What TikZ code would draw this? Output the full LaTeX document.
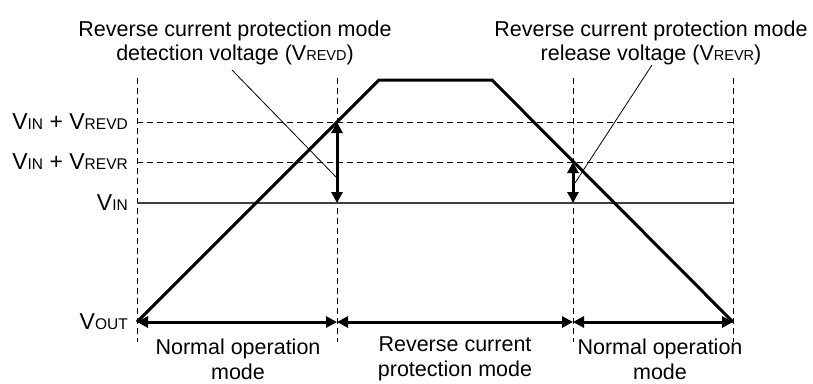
\documentclass[tikz,border=0pt]{standalone}
\usepackage{fontspec}
\setmainfont{Liberation Sans}
\usetikzlibrary{positioning, arrows.meta}
\newcommand{\sm}[1]{{\fontsize{14.5}{14.5}\selectfont #1}}
\newcommand{\lv}[1]{{\fontsize{15.5}{15.5}\selectfont #1}}

\begin{document}
\begin{tikzpicture}[x=1pt, y=-1pt, font=\fontsize{21.5}{25}\selectfont,
  guide/.style={line width=0.9pt, dash pattern=on 6pt off 4pt},
  vout/.style={line width=3pt, line join=miter},
  span/.style={line width=3pt, {Triangle[length=11pt,width=11pt]}-{Triangle[length=11pt,width=11pt]}},
  leader/.style={line width=0.8pt},
  lbl/.style={inner sep=0pt, align=center},
  level/.style={inner sep=0pt, anchor=east, font=\fontsize{23}{26}\selectfont}]
\useasboundingbox (0,0) rectangle (813,383);
% corners of the output voltage
\coordinate(o) at (137,322);
\coordinate(d) at (337,122);
\coordinate(p1) at (379,80);
\coordinate(p2) at (492,80);
\coordinate(r) at (573,162);
\coordinate(e) at (733,322);
\coordinate(din) at (337,203);
\coordinate(rin) at (573,203);
\coordinate(m1) at (337,322);
\coordinate(m2) at (573,322);
% guide lines
\foreach \x in {137,337,573,733}
  \draw[guide] (\x,78) -- (\x,342);
\draw[guide] (137,122) -- (733,122);
\draw[guide] (137,162) -- (733,162);
\draw[line width=1.2pt, black!75] (137,203) -- (733,203);
% levels
\node(lrevd)[level] at (128,122) {V\lv{IN} + V\lv{REVD}};
\node(lrevr)[level] at (128,162) {V\lv{IN} + V\lv{REVR}};
\node(lin)[level] at (128,203) {V\lv{IN}};
\node(lout)[level] at (128,322) {V\lv{OUT}};
% output voltage
\draw[vout] (o) -- (d) -- (p1) -- (p2) -- (e);
\draw[span] (din) -- (d);
\draw[span] (rin) -- (r);
\draw[span] (o) -- (m1);
\draw[span] (m1) -- (m2);
\draw[span] (m2) -- (e);
% notes
\node(detect)[lbl, font=\fontsize{21.5}{24}\selectfont] at (235,43) {Reverse current protection mode\\detection voltage (V\sm{REVD})};
\node(release)[lbl, font=\fontsize{21.5}{24}\selectfont] at (651,43) {Reverse current protection mode\\release voltage (V\sm{REVR})};
\coordinate(dtip) at (336,177);
\coordinate(rtip) at (575,183);
\draw[leader] (232,70) -- (dtip);
\draw[leader] (652,65) -- (rtip);
% modes
\node(normal1)[lbl] at (238,359) {Normal operation\\mode};
\node(protect)[lbl] at (455,359) {Reverse current\\protection mode};
\node(normal2)[lbl] at (660,359) {Normal operation\\mode};
\end{tikzpicture}
\end{document}
